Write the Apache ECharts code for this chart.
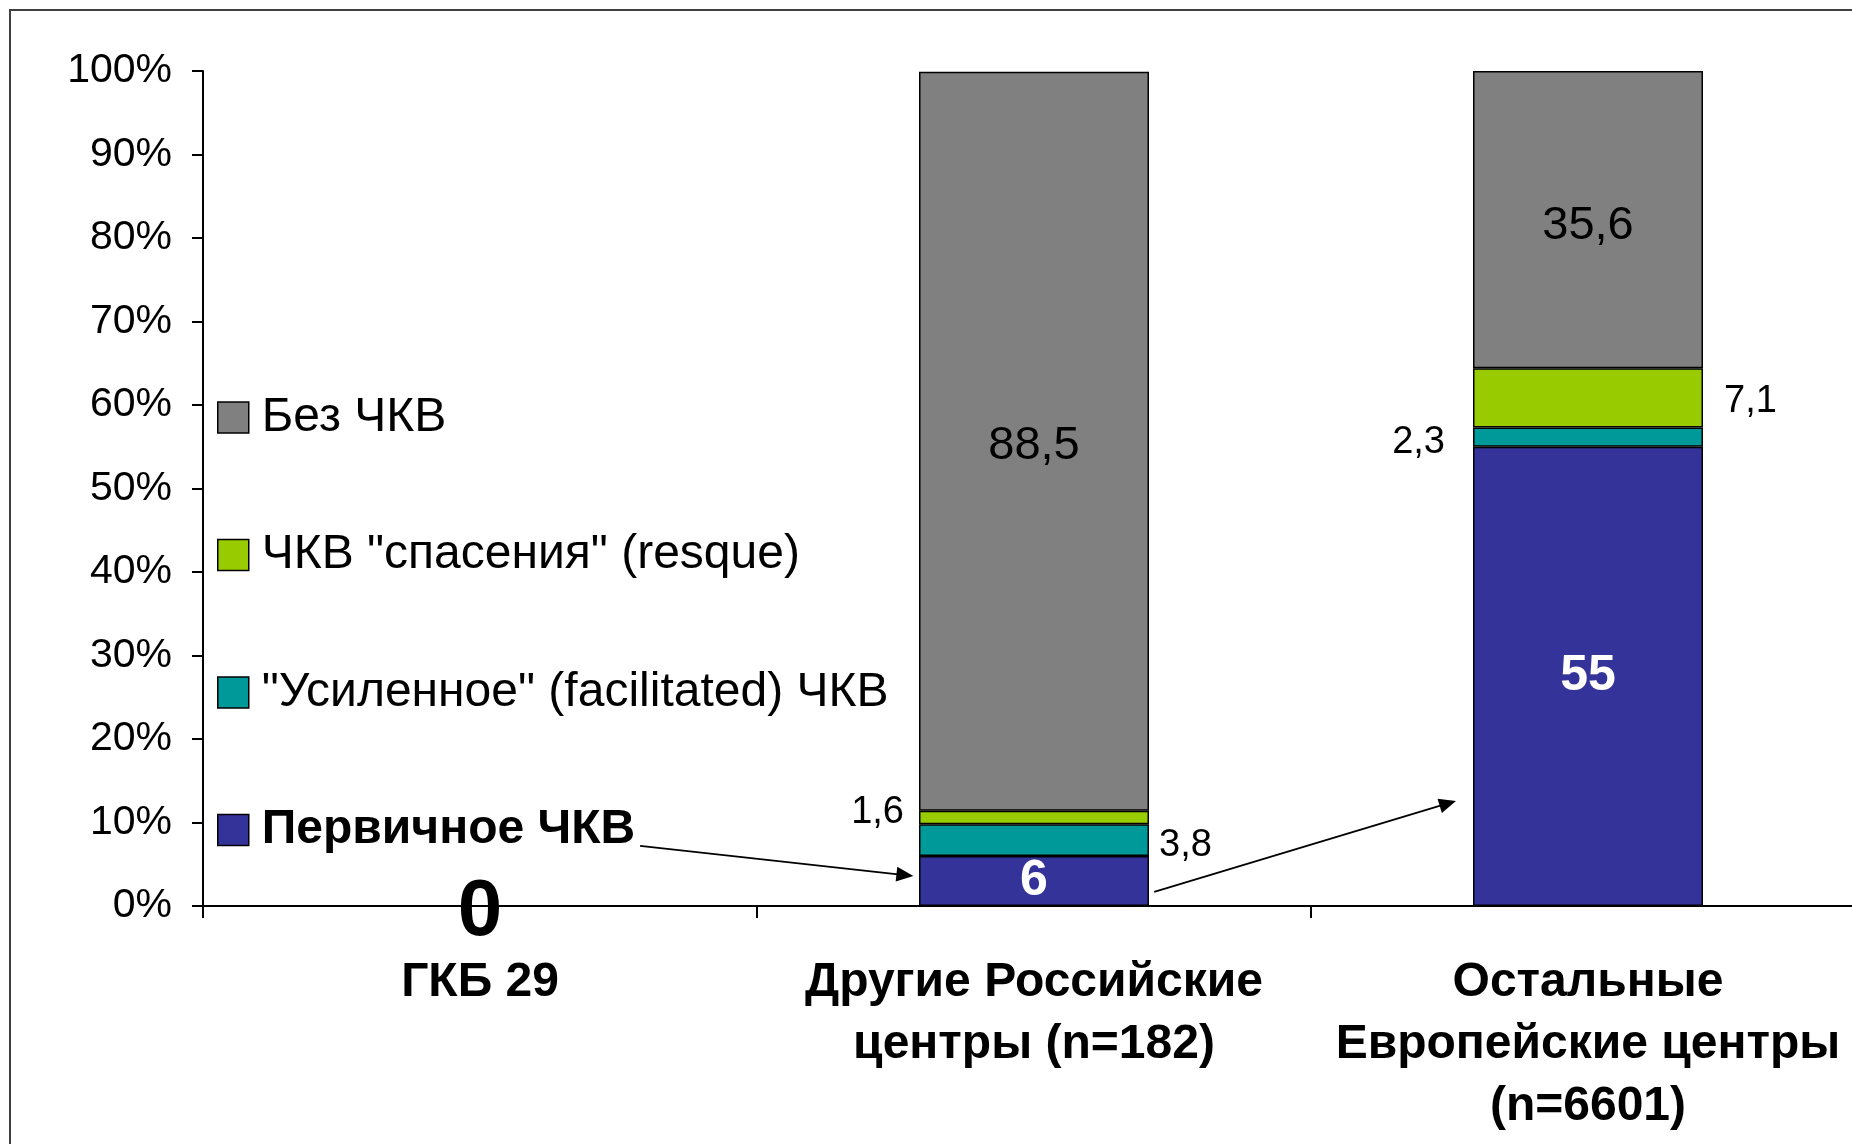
<!DOCTYPE html>
<html>
<head>
<meta charset="utf-8">
<script src="https://cdn.jsdelivr.net/npm/echarts@6/dist/echarts.min.js"></script>
<style>
html,body{margin:0;padding:0;background:#fff;overflow:hidden;width:1852px;height:1144px;}
#c{width:1865px;height:1144px;}
</style>
</head>
<body>
<div id="c"></div>
<script>
// ---- data ----
var categories = ['ГКБ 29', 'Другие Российские\nцентры (n=182)', 'Остальные\nЕвропейские центры\n(n=6601)'];
var seriesNames = ['Первичное ЧКВ', '"Усиленное" (facilitated) ЧКВ', 'ЧКВ "спасения" (resque)', 'Без ЧКВ'];
var primaryPci = [0, 6, 55];
var facilitatedPci = [0, 3.8, 2.3];
var rescuePci = [0, 1.6, 7.1];
var noPci = [0, 88.5, 35.6];
var yTicks = [0, 10, 20, 30, 40, 50, 60, 70, 80, 90, 100];
// annotation arrows, in data units: [category position, percent]
var arrowPaths = [
  [[0.289, 7.19], [0.767, 3.71]],
  [[1.217, 1.68], [1.747, 12.29]]
];

// ---- styling ----
var FONT = '"Liberation Sans", Arial, sans-serif';
var colors = ['#333399', '#009999', '#99CC00', '#808080'];
var fmt = function (p) { return String(p.value).replace('.', ','); };

var labelSpecs = [
  [ {show:true, position:'inside', offset:[0,7], fontSize:80, fontWeight:'bold', color:'#000'},
    {show:true, position:'inside', fontSize:50, fontWeight:'bold', color:'#fff'},
    {show:true, position:'inside', fontSize:50, fontWeight:'bold', color:'#fff'} ],
  [ {show:false},
    {show:true, position:'right', distance:10, offset:[0,5], fontSize:38, color:'#000'},
    {show:true, position:'left', distance:28, offset:[0,5], fontSize:38, color:'#000'} ],
  [ {show:false},
    {show:true, position:'left', distance:15, offset:[0,-5], fontSize:38, color:'#000'},
    {show:true, position:'right', distance:21, offset:[0,4], fontSize:38, color:'#000'} ],
  [ {show:false},
    {show:true, position:'inside', offset:[0,5], fontSize:47, color:'#000'},
    {show:true, position:'inside', offset:[0,6], fontSize:47, color:'#000'} ]
];

var valueSets = [primaryPci, facilitatedPci, rescuePci, noPci];

var barSeries = valueSets.map(function (vals, si) {
  return {
    name: seriesNames[si],
    type: 'bar',
    stack: 'total',
    barWidth: 230,
    xAxisIndex: 0,
    yAxisIndex: 0,
    itemStyle: { color: colors[si], borderColor: '#000', borderWidth: 1.5 },
    data: vals.map(function (v, ci) {
      var l = labelSpecs[si][ci];
      var lab = Object.assign({ formatter: fmt, fontFamily: FONT }, l);
      return { value: v, label: lab };
    })
  };
});

var arrowSeries = {
  type: 'lines',
  coordinateSystem: 'cartesian2d',
  xAxisIndex: 1,
  yAxisIndex: 0,
  symbol: ['none', 'triangle'],
  symbolSize: [0, [15, 17]],
  lineStyle: { color: '#000', width: 1.8, opacity: 1, curveness: 0 },
  silent: true,
  z: 5,
  data: arrowPaths.map(function (p) { return { coords: p }; })
};

var chart = echarts.init(document.getElementById('c'));
chart.setOption({
  animation: false,
  backgroundColor: '#fff',
  textStyle: { fontFamily: FONT },
  graphic: [{
    type: 'rect',
    shape: { x: 10, y: 10, width: 2000, height: 2000 },
    style: { fill: 'none', stroke: '#404040', lineWidth: 2 },
    z: -1
  }],
  grid: { left: 203, top: 71, right: 0, bottom: 238, containLabel: false },
  legend: {
    orient: 'vertical',
    left: 217,
    top: 393.5,
    padding: 0,
    itemWidth: 31,
    itemHeight: 31,
    itemGap: 89.5,
    icon: 'rect',
    selectedMode: false,
    itemStyle: { borderColor: '#000', borderWidth: 1.5 },
    textStyle: { fontSize: 48, color: '#000', fontFamily: FONT, padding: [0, 0, 0, 8] },
    data: [
      { name: seriesNames[3] },
      { name: seriesNames[2] },
      { name: seriesNames[1] },
      { name: seriesNames[0], textStyle: { fontWeight: 'bold' } }
    ]
  },
  xAxis: [{
    type: 'category',
    data: categories,
    axisLine: { lineStyle: { color: '#000', width: 2 } },
    axisTick: { show: true, length: 12, lineStyle: { color: '#000', width: 2 } },
    axisLabel: { interval: 0, fontSize: 48, fontWeight: 'bold', color: '#000', lineHeight: 62, margin: 46, fontFamily: FONT },
    splitLine: { show: false }
  }, {
    type: 'value',
    min: -0.5,
    max: 2.5,
    show: false
  }],
  yAxis: [{
    type: 'value',
    min: 0,
    max: 100,
    interval: 10,
    axisLine: { show: true, onZero: false, lineStyle: { color: '#000', width: 2 } },
    axisTick: { show: true, length: 11, lineStyle: { color: '#000', width: 2 } },
    axisLabel: {
      fontSize: 41, color: '#000', margin: 31, fontFamily: FONT,
      formatter: function (v) { return yTicks.indexOf(v) >= 0 ? v + '%' : ''; }
    },
    splitLine: { show: false }
  }],
  series: barSeries.concat([arrowSeries])
});
</script>
</body>
</html>
